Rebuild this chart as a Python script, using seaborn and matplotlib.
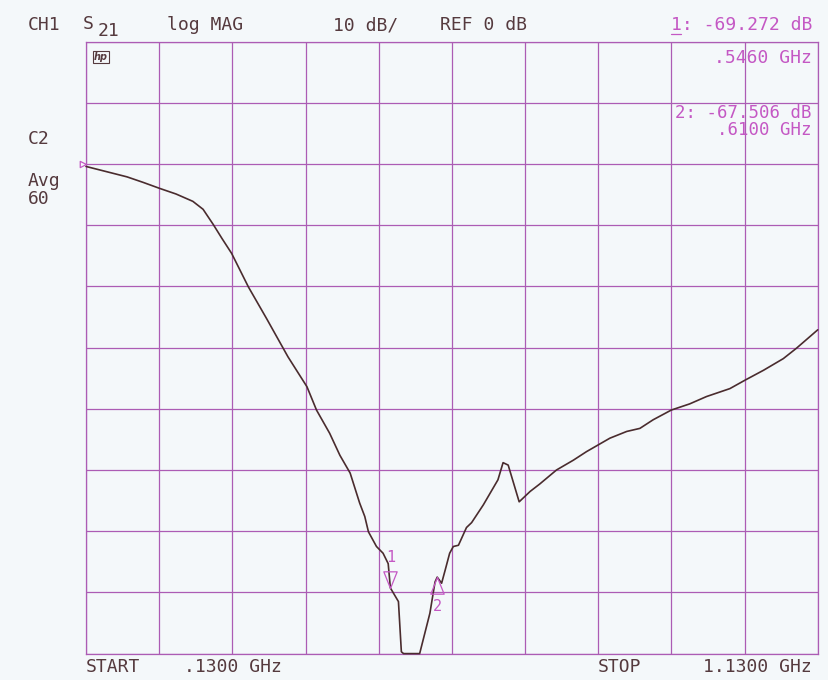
import numpy as np
import pandas as pd
import matplotlib
matplotlib.use("Agg")
import matplotlib.pyplot as plt
from matplotlib.lines import Line2D
import seaborn as sns

# S21 trace, log magnitude (dB) against frequency (GHz)
freq_ghz = [0.130, 0.186, 0.208, 0.231, 0.253, 0.276, 0.290, 0.304, 0.316, 0.329,
            0.352, 0.377, 0.406, 0.432, 0.445, 0.463, 0.477, 0.491, 0.504, 0.511,
            0.516, 0.527, 0.536, 0.543, 0.546, 0.557, 0.561, 0.564, 0.586, 0.593,
            0.600, 0.607, 0.610, 0.616, 0.621, 0.627, 0.632, 0.639, 0.650, 0.657,
            0.673, 0.693, 0.700, 0.707, 0.722, 0.737, 0.750, 0.773, 0.796, 0.814,
            0.830, 0.846, 0.869, 0.887, 0.905, 0.930, 0.955, 0.978, 1.010, 1.031,
            1.056, 1.083, 1.101, 1.130]
mag_db = [-0.4, -2.1, -3.0, -4.0, -4.9, -6.1, -7.4, -9.9, -12.2, -14.6,
          -20.1, -25.3, -31.5, -36.4, -40.2, -44.0, -47.6, -50.5, -55.4, -57.6,
          -60.1, -62.5, -63.6, -65.3, -69.272, -71.5, -79.7, -80.0, -80.0, -76.7,
          -73.4, -68.3, -67.506, -68.5, -66.3, -63.6, -62.5, -62.3, -59.4, -58.6,
          -55.7, -51.6, -48.8, -49.2, -55.2, -53.5, -52.3, -50.0, -48.4, -47.0,
          -45.9, -44.8, -43.7, -43.2, -41.8, -40.2, -39.2, -38.0, -36.7, -35.3,
          -33.7, -31.8, -30.1, -27.1]

# Marker readouts
marker_ids = ["1", "2"]
marker_freq = [0.546, 0.610]
marker_db = [-69.272, -67.506]

start_ghz, stop_ghz = 0.13, 1.13
ref_db, db_per_div = 0.0, 10.0

BG = "#f4f8fa"
GRID = "#ac5cb4"
TRACE = "#4a2c2e"
INK = "#553a3e"
MAG = "#c458c4"

sns.set_theme(style="white")
plt.rcParams["font.family"] = ["DejaVu Sans Mono", "DejaVu Sans"]

fig = plt.figure(figsize=(8.29, 6.8), dpi=100, facecolor=BG)
ax = fig.add_axes([86 / 829, 1 - 653.6 / 680, 731.7 / 829, 612 / 680])
ax.set_facecolor(BG)

df = pd.DataFrame({"freq": freq_ghz, "db": mag_db})
sns.lineplot(data=df, x="freq", y="db", ax=ax, sort=False, estimator=None,
             color=TRACE, linewidth=1.2, clip_on=False, zorder=3)

ax.set_xlim(start_ghz, stop_ghz)
ax.set_ylim(ref_db - 8 * db_per_div, ref_db + 2 * db_per_div)
ax.set_xticks(np.linspace(start_ghz, stop_ghz, 11))
ax.set_yticks(np.arange(-80, 21, 10))
ax.tick_params(length=0, labelbottom=False, labelleft=False)
ax.set_xlabel("")
ax.set_ylabel("")
ax.grid(True, color=GRID, linewidth=0.9)
for sp in ax.spines.values():
    sp.set_color(GRID)
    sp.set_linewidth(0.9)

# Marker symbols: 1 points down onto the trace, 2 points up onto it
down_tri = [(0, 0), (-0.4, 1), (0.4, 1), (0, 0)]
up_tri = [(0, 0), (-0.4, -1), (0.4, -1), (0, 0)]
label_offset = {"1": 22, "2": -21}
for mid, mf, md, verts in zip(marker_ids, marker_freq, marker_db, [down_tri, up_tri]):
    ax.plot([mf], [md], marker=verts, markersize=24, markerfacecolor="none",
            markeredgecolor=MAG, markeredgewidth=0.9, linestyle="none", zorder=4)
    ax.annotate(mid, (mf, md), xytext=(0, label_offset[mid]),
                textcoords="offset points", ha="center", va="center",
                color=MAG, fontsize=11)

# Reference position indicator on the left edge
ax.plot([start_ghz], [ref_db], marker=[(0, 0), (-1, 0.5), (-1, -0.5), (0, 0)],
        markersize=9, markerfacecolor="none", markeredgecolor=MAG,
        markeredgewidth=0.9, linestyle="none", clip_on=False, zorder=4)


def ftext(x, y, s, color=INK, size=13, ha="left", **kw):
    fig.text(x / 829, 1 - y / 680, s, color=color, fontsize=size, ha=ha,
             va="center", **kw)


# Header line
ftext(28, 25, "CH1")
ftext(83, 24, "S")
ftext(98, 31, "21")
ftext(167, 25, "log MAG")
ftext(333, 25, "10 dB/")
ftext(440, 25, "REF 0 dB")

# Marker readouts
ftext(812, 25, "1: -69.272 dB", color=MAG, ha="right")
ftext(812, 58, ".5460 GHz", color=MAG, ha="right")
ftext(812, 113, "2: -67.506 dB", color=MAG, ha="right", size=12.5)
ftext(812, 130, ".6100 GHz", color=MAG, ha="right", size=12.5)
fig.add_artist(Line2D([671 / 829, 681 / 829], [1 - 34 / 680, 1 - 34 / 680],
                      color=MAG, linewidth=0.9))

# Left status annotations
ftext(28, 139, "C2")
ftext(28, 181, "Avg")
ftext(28, 199, "60")

# Sweep limits
ftext(86, 667, "START")
ftext(184, 667, ".1300 GHz")
ftext(598, 667, "STOP")
ftext(812, 667, "1.1300 GHz", ha="right")

# Instrument badge
fig.text(101 / 829, 1 - 57 / 680, "hp", color=INK, fontsize=7, ha="center",
         va="center", fontstyle="italic", fontweight="bold",
         family="DejaVu Sans",
         bbox=dict(boxstyle="square,pad=0.15", facecolor="none",
                   edgecolor=INK, linewidth=0.8))

fig.savefig("out.png", dpi=100, facecolor=BG)
